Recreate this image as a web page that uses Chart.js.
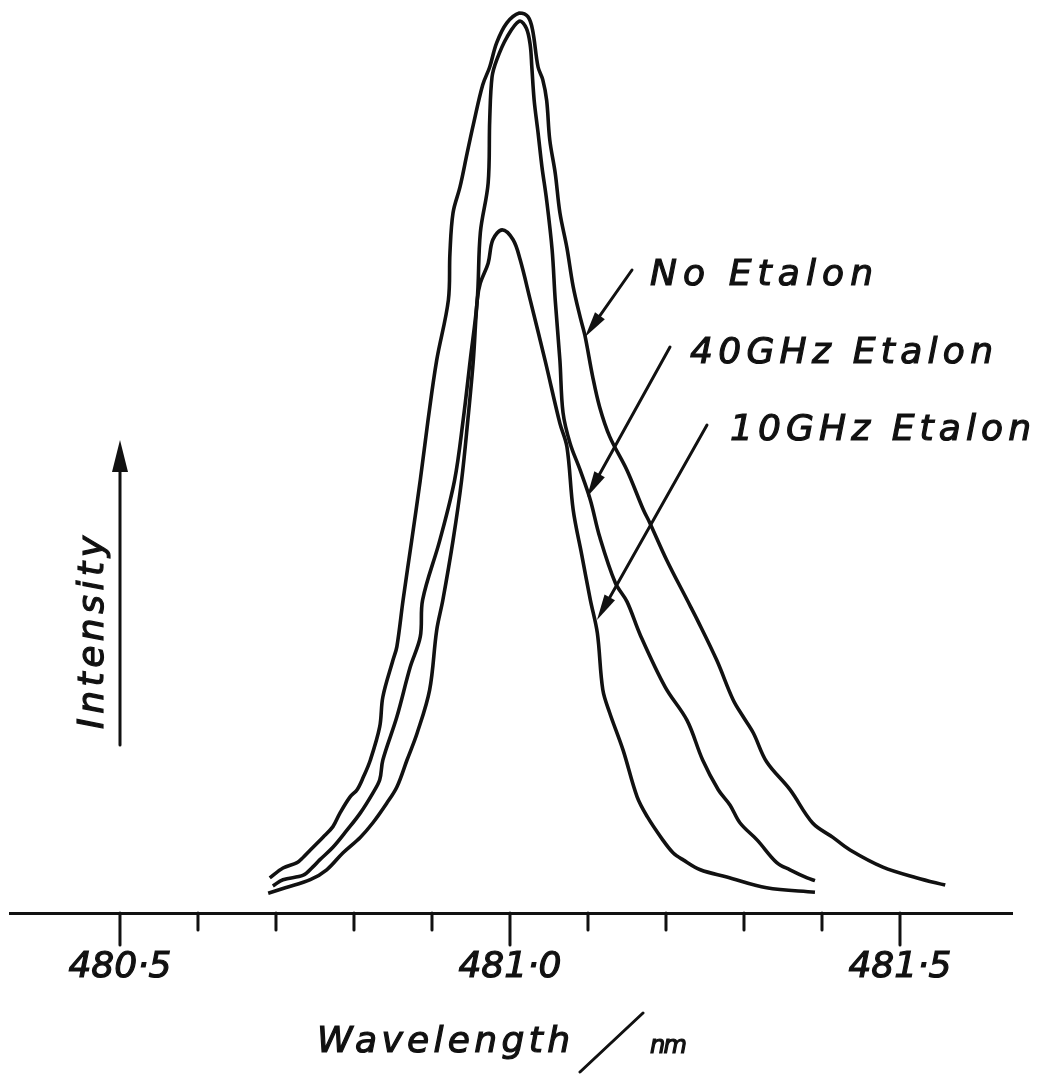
<!DOCTYPE html>
<html>
<head>
<meta charset="utf-8">
<script src="https://cdn.jsdelivr.net/npm/chart.js@4.4.1/dist/chart.umd.min.js"></script>
<style>
  html, body { margin: 0; padding: 0; background: #fff; }
  canvas { display: block; }
</style>
</head>
<body>
<canvas id="spectrum" width="1037" height="1074"></canvas>
<script>
// wavelength (nm) / relative intensity
const noEtalonWl = [480.692, 480.709, 480.727, 480.735, 480.744, 480.760, 480.773, 480.782, 480.795, 480.804, 480.812, 480.821, 480.833, 480.837, 480.850, 480.855, 480.863, 480.874, 480.885, 480.895, 480.906, 480.921, 480.923, 480.927, 480.936, 480.945, 480.953, 480.965, 480.974, 480.983, 480.996, 481.012, 481.023, 481.029, 481.036, 481.042, 481.047, 481.051, 481.058, 481.064, 481.073, 481.081, 481.090, 481.096, 481.106, 481.115, 481.128, 481.150, 481.171, 481.179, 481.201, 481.227, 481.240, 481.265, 481.286, 481.299, 481.312, 481.329, 481.359, 481.388, 481.414, 481.436, 481.478, 481.522, 481.558];
const noEtalonInt = [3.9, 5.0, 5.6, 6.2, 7.0, 8.4, 9.6, 11.1, 12.9, 13.7, 15.1, 17.0, 20.7, 24.0, 28.1, 29.6, 34.8, 41.4, 48.1, 54.8, 61.4, 68.1, 73.3, 77.8, 80.7, 84.4, 87.6, 92.0, 94.0, 96.7, 98.9, 100.0, 99.6, 98.1, 94.0, 92.6, 90.3, 85.9, 82.2, 77.8, 73.9, 69.6, 66.2, 64.2, 59.6, 56.2, 52.9, 49.2, 44.8, 43.4, 39.2, 34.8, 32.6, 28.1, 23.7, 21.8, 20.0, 16.8, 13.7, 10.0, 8.4, 7.0, 5.1, 3.9, 3.1];

const etalon40Wl = [480.696, 480.709, 480.735, 480.747, 480.756, 480.773, 480.791, 480.808, 480.824, 480.833, 480.837, 480.855, 480.872, 480.885, 480.888, 480.910, 480.929, 480.940, 480.949, 480.958, 480.962, 480.972, 480.974, 480.977, 480.983, 480.996, 481.012, 481.021, 481.026, 481.028, 481.031, 481.036, 481.041, 481.047, 481.054, 481.058, 481.064, 481.068, 481.077, 481.090, 481.103, 481.115, 481.135, 481.150, 481.167, 481.199, 481.227, 481.247, 481.267, 481.282, 481.295, 481.317, 481.342, 481.359, 481.381, 481.391];
const etalon40Int = [3.0, 3.7, 4.2, 5.1, 5.9, 7.3, 9.2, 11.1, 13.3, 14.8, 17.0, 21.8, 27.3, 30.7, 34.8, 41.4, 48.1, 54.8, 61.4, 68.1, 75.6, 81.1, 88.1, 92.9, 94.8, 97.3, 99.1, 98.3, 96.4, 94.0, 90.3, 86.7, 82.9, 79.2, 73.7, 68.1, 61.4, 55.6, 52.2, 49.2, 45.9, 41.8, 36.7, 34.6, 30.9, 25.1, 21.4, 17.0, 13.7, 12.0, 10.0, 8.1, 5.6, 4.8, 3.9, 3.6];

const etalon10Wl = [480.690, 480.712, 480.744, 480.765, 480.786, 480.808, 480.824, 480.842, 480.855, 480.868, 480.881, 480.897, 480.906, 480.914, 480.927, 480.938, 480.946, 480.953, 480.958, 480.962, 480.972, 480.978, 480.990, 481.004, 481.013, 481.026, 481.045, 481.064, 481.073, 481.081, 481.092, 481.103, 481.112, 481.119, 481.128, 481.145, 481.163, 481.176, 481.196, 481.209, 481.222, 481.244, 481.278, 481.329, 481.391];
const etalon10Int = [2.2, 2.8, 3.7, 4.8, 6.7, 8.4, 10.0, 12.2, 14.0, 17.0, 20.0, 24.8, 31.4, 34.8, 41.4, 48.1, 54.8, 61.4, 68.1, 70.0, 72.2, 74.8, 75.9, 74.8, 72.6, 68.1, 61.4, 54.4, 51.8, 44.8, 39.8, 34.8, 31.1, 24.8, 22.2, 18.1, 12.9, 10.7, 8.1, 6.7, 5.9, 4.8, 4.0, 2.8, 2.3];

const seriesNames = ['No Etalon', '40GHz Etalon', '10GHz Etalon'];
const tickValues = [480.5, 480.6, 480.7, 480.8, 480.9, 481.0, 481.1, 481.2, 481.3, 481.4, 481.5];
const tickLabels = ['480·5', '', '', '', '', '481·0', '', '', '', '', '481·5'];

const ink = '#111';
const hand = '"DejaVu Sans", "Liberation Sans", sans-serif';

function toPoints(wl, val) {
    return wl.map((w, i) => ({ x: w, y: val[i] }));
}

// stretch a string with letter spacing so it covers the given width,
// a thin stroke thickens it to look more like pen lettering
function spacedText(ctx, text, x, y, width) {
    ctx.letterSpacing = '0px';
    const w = ctx.measureText(text).width;
    ctx.letterSpacing = ((width - w) / (text.length - 1)) + 'px';
    ctx.fillText(text, x, y);
    ctx.lineWidth = 1.2;
    ctx.strokeText(text, x, y);
    ctx.letterSpacing = '0px';
}

function arrow(ctx, x1, y1, x2, y2, head, half) {
    const a = Math.atan2(y2 - y1, x2 - x1);
    const c = Math.cos(a), s = Math.sin(a);
    ctx.beginPath();
    ctx.moveTo(x1, y1);
    ctx.lineTo(x2 - c * head * 0.6, y2 - s * head * 0.6);
    ctx.stroke();
    ctx.beginPath();
    ctx.moveTo(x2, y2);
    ctx.lineTo(x2 - c * head - s * half, y2 - s * head + c * half);
    ctx.lineTo(x2 - c * head + s * half, y2 - s * head - c * half);
    ctx.closePath();
    ctx.fill();
}

// labels with their pointer arrows (tail, tip) and text box
const pointers = [
    { text: seriesNames[0], tail: [632, 270], tip: [585, 337], left: 650, right: 873, base: 285 },
    { text: seriesNames[1], tail: [670, 347], tip: [587, 497], left: 690, right: 993, base: 363 },
    { text: seriesNames[2], tail: [707, 425], tip: [597, 620], left: 730, right: 1031, base: 440 }
];

const sketchPlugin = {
    id: 'sketch',
    afterDraw(chart) {
        const ctx = chart.ctx;
        const xs = chart.scales.x;
        const area = chart.chartArea;
        ctx.save();
        ctx.strokeStyle = ink;
        ctx.fillStyle = ink;
        ctx.lineCap = 'round';
        ctx.lineWidth = 3;

        // tick marks, long ones at the labelled values
        tickValues.forEach((v, i) => {
            const px = xs.getPixelForValue(v);
            ctx.beginPath();
            ctx.moveTo(px, area.bottom);
            ctx.lineTo(px, area.bottom + (tickLabels[i] ? 32 : 17));
            ctx.stroke();
        });

        // intensity arrow
        arrow(ctx, 120, 745, 120, 440, 32, 8);

        ctx.font = 'italic 36px ' + hand;
        ctx.textBaseline = 'alphabetic';
        ctx.textAlign = 'left';
        pointers.forEach(p => {
            ctx.lineWidth = 3;
            arrow(ctx, p.tail[0], p.tail[1], p.tip[0], p.tip[1], 26, 6);
            spacedText(ctx, p.text, p.left, p.base, p.right - p.left);
        });

        // axis titles
        spacedText(ctx, 'Wavelength', 317, 1052, 253);
        ctx.lineWidth = 3;
        ctx.beginPath();
        ctx.moveTo(643, 1013);
        ctx.lineTo(580, 1072);
        ctx.stroke();
        ctx.font = 'italic 24px ' + hand;
        spacedText(ctx, 'nm', 650, 1053, 37);

        ctx.font = 'italic 36px ' + hand;
        ctx.translate(103, 633);
        ctx.rotate(-Math.PI / 2);
        ctx.textAlign = 'left';
        spacedText(ctx, 'Intensity', -96, 0, 193);
        ctx.restore();
    }
};

const datasets = [
    { label: seriesNames[0], data: toPoints(noEtalonWl, noEtalonInt) },
    { label: seriesNames[1], data: toPoints(etalon40Wl, etalon40Int) },
    { label: seriesNames[2], data: toPoints(etalon10Wl, etalon10Int) }
].map(ds => Object.assign(ds, {
    borderColor: ink,
    borderWidth: 3.6,
    pointRadius: 0,
    fill: false,
    clip: false,
    tension: 0.35
}));

new Chart(document.getElementById('spectrum').getContext('2d'), {
    type: 'line',
    data: { datasets: datasets },
    options: {
        responsive: false,
        animation: false,
        devicePixelRatio: 1,
        layout: { padding: { left: 10, right: 25, top: 13, bottom: 0 } },
        plugins: {
            legend: { display: false },
            tooltip: { enabled: false }
        },
        scales: {
            x: {
                type: 'linear',
                min: 480.359,
                max: 481.6436,
                afterBuildTicks: scale => {
                    scale.ticks = tickValues.map(v => ({ value: v }));
                },
                afterFit: scale => {
                    scale.height = 161;
                },
                grid: { drawOnChartArea: false, drawTicks: false },
                border: { display: true, color: ink, width: 3 },
                ticks: {
                    autoSkip: false,
                    maxRotation: 0,
                    minRotation: 0,
                    padding: 33,
                    color: ink,
                    textStrokeColor: ink,
                    textStrokeWidth: 1.2,
                    font: { family: hand, size: 36, style: 'italic' },
                    callback: (value) => {
                        const i = tickValues.findIndex(t => Math.abs(t - value) < 1e-6);
                        return i >= 0 ? tickLabels[i] : '';
                    }
                }
            },
            y: { display: false, min: 0, max: 100 }
        }
    },
    plugins: [sketchPlugin]
});
</script>
</body>
</html>
